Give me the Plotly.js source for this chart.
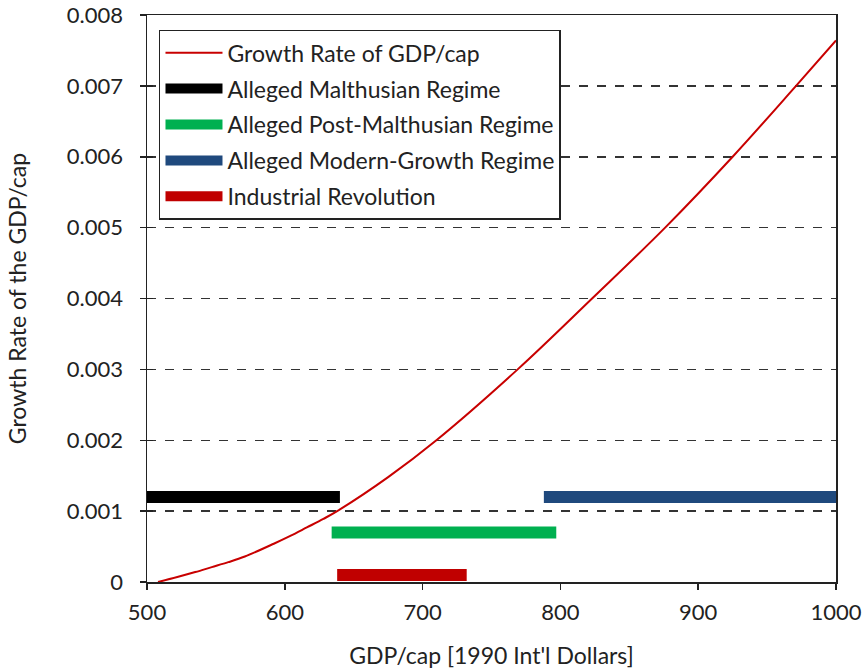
<!DOCTYPE html>
<html>
<head>
<meta charset="utf-8">
<script src="https://cdn.plot.ly/plotly-3.0.1.min.js"></script>
<style>html,body{margin:0;padding:0;background:#fff;}#chart{width:864px;height:671px;}</style>
</head>
<body>
<div id="chart"></div>
<script>
// Growth-rate curve
const gdpCap = [508, 522, 535, 547, 559, 571, 592, 604, 616, 628, 638, 675, 710, 769, 823, 876, 925, 971, 1000];
const growthRate = [0, 0.00007, 0.00014, 0.00021, 0.00028, 0.00036, 0.00054, 0.00065, 0.00077, 0.00089, 0.001, 0.00148, 0.002, 0.003, 0.004, 0.005, 0.006, 0.007, 0.00764];

// Regime bars: [start, end] GDP/cap and level
const regimeNames = ["Alleged Malthusian Regime", "Alleged Post-Malthusian Regime", "Alleged Modern-Growth Regime", "Industrial Revolution"];
const regimeStart = [500, 634, 788, 638];
const regimeEnd = [640, 797, 1000, 732];
const regimeLevel = [0.0012, 0.0007, 0.0012, 0.0001];
const regimeColors = ["#000000", "#00B050", "#1F497D", "#C00000"];

const yTicks = [0, 0.001, 0.002, 0.003, 0.004, 0.005, 0.006, 0.007, 0.008];
const yTickText = ["0", "0.001", "0.002", "0.003", "0.004", "0.005", "0.006", "0.007", "0.008"];
const xTicks = [500, 600, 700, 800, 900, 1000];

const FONT = "Lato, 'Open Sans', sans-serif";

const traces = [{
  x: gdpCap, y: growthRate, type: "scatter", mode: "lines",
  name: "Growth Rate of GDP/cap",
  line: {color: "#C80000", width: 2, shape: "spline", smoothing: 1},
  legendgroup: "g0"
}];
regimeNames.forEach((n, i) => {
  traces.push({
    x: [regimeStart[i], regimeEnd[i]], y: [regimeLevel[i], regimeLevel[i]],
    type: "scatter", mode: "lines", name: n,
    line: {color: regimeColors[i], width: 12},
    legendgroup: "g" + (i + 1)
  });
});

const layout = {
  width: 864, height: 671,
  margin: {l: 147, r: 28, t: 15, b: 89},
  paper_bgcolor: "#fff", plot_bgcolor: "#fff",
  font: {family: FONT, color: "#222", size: 22},
  showlegend: true,
  legend: {
    x: 0.0174, y: 0.974, xanchor: "left", yanchor: "top",
    bgcolor: "#fff", bordercolor: "#222", borderwidth: 1.5,
    font: {family: FONT, size: 23, color: "#222"},
    tracegroupgap: 3, traceorder: "grouped", itemwidth: 57
  },
  xaxis: {
    range: [500, 1000], tickvals: xTicks, ticks: "outside", ticklen: 6, tickwidth: 1.5, tickcolor: "#222",
    showline: true, linecolor: "#222", linewidth: 1.5, mirror: true,
    showgrid: false, zeroline: false, ticklabelstandoff: 4,
    tickfont: {family: FONT, size: 22, color: "#222"},
    title: {text: "GDP/cap [1990 Int'l Dollars]", font: {family: FONT, size: 23, color: "#222"}, standoff: 24}
  },
  yaxis: {
    range: [0, 0.008], tickvals: yTicks, ticktext: yTickText, ticks: "outside", ticklen: 6, tickwidth: 1.5, tickcolor: "#222",
    showline: true, linecolor: "#222", linewidth: 1.5, mirror: true,
    showgrid: true, gridcolor: "#333", gridwidth: 1.5, griddash: "dash", zeroline: false,
    ticklabelstandoff: 12,
    tickfont: {family: FONT, size: 22, color: "#222"},
    title: {text: "Growth Rate of the GDP/cap", font: {family: FONT, size: 23, color: "#222"}, standoff: 34}
  },
  yaxis2: {
    overlaying: "y", matches: "y", side: "left", range: [0, 0.008], tickvals: yTicks,
    ticks: "inside", ticklen: 6, tickwidth: 1.5, tickcolor: "#222",
    showticklabels: false, showgrid: false, zeroline: false, showline: false
  }
};

// invisible trace so the inside tick marks of yaxis2 are drawn
traces.push({x: [500], y: [0], yaxis: "y2", mode: "markers", marker: {opacity: 0}, showlegend: false, hoverinfo: "skip"});

Plotly.newPlot("chart", traces, layout, {displayModeBar: false, staticPlot: true});
</script>
</body>
</html>
